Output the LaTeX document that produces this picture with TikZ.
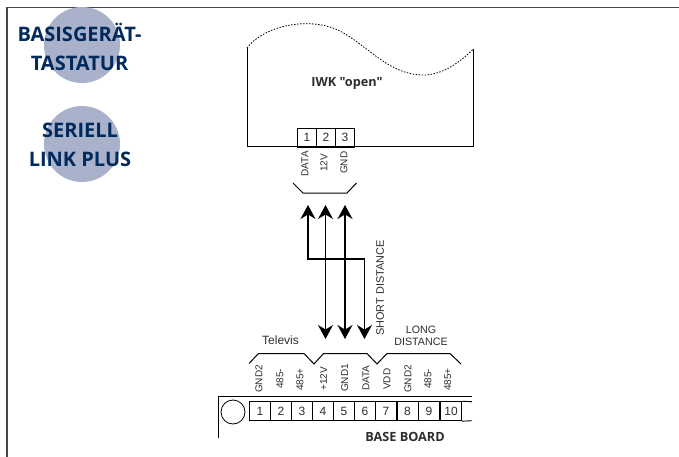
\documentclass[tikz,border=0pt]{standalone}
\usepackage{fontspec}
\setmainfont{Liberation Sans}
\newfontfamily\titlefont{Open Sans}
\usetikzlibrary{arrows.meta, positioning}
\definecolor{bbnavy}{RGB}{0, 42, 92}
\definecolor{bbcircle}{RGB}{169, 177, 203}
\definecolor{bbframe}{RGB}{70, 70, 70}
\definecolor{bbtext}{RGB}{45, 45, 45}

\begin{document}
\begin{tikzpicture}[x=1pt, y=-1pt, every node/.style={font=\fontsize{10.9}{12}\selectfont, text=bbtext},
  badge/.style={circle, fill=bbcircle, minimum size=76pt, inner sep=0pt},
  badgetext/.style={align=center, text=bbnavy, font=\titlefont\bfseries\fontsize{20}{29}\selectfont},
  terminal/.style={draw=black, line width=0.9pt, minimum width=19.5pt, minimum height=19pt, inner sep=0pt,
              text=bbtext, font=\fontsize{12}{12}\selectfont},
  pinlabel/.style={rotate=90, anchor=west, inner sep=0pt, font=\fontsize{10}{12}\selectfont},
  boldlabel/.style={font=\titlefont\bfseries\fontsize{12.7}{14}\selectfont},
  link/.style={{Stealth[length=14pt,width=15pt]}-{Stealth[length=14pt,width=15pt]}, line width=1.2pt}]
  \useasboundingbox (0,0) rectangle (679,457);

  % Page frame
  \coordinate (fa) at (7,457);
  \coordinate (fb) at (7,7.5);
  \coordinate (fc) at (679,7.5);
  \draw[bbframe, line width=1.5pt] (fa) -- (fb) -- (fc);

  % Badges top left
  \node[badge] (c1) at (82,45) {};
  \node[badge] (c2) at (82,144) {};
  \node[badgetext] (t1) at (79.5,46.5) {BASISGERÄT-\\TASTATUR};
  \node[badgetext] (t2) at (80,144.5) {SERIELL\\LINK PLUS};

  % IWK outline
  \coordinate (i1) at (247,48);
  \coordinate (i2) at (247,147);
  \coordinate (i3) at (473.5,147);
  \coordinate (i4) at (473.5,49);
  \draw[line width=1pt] (i1) -- (i2) -- (i3) -- (i4);
  \draw[line width=0.8pt, dash pattern=on 1.5pt off 1.5pt] (i1)
    .. controls (262,28) and (300,18) .. (330,27)
    .. controls (362,37) and (385,76) .. (425,75)
    .. controls (444,74) and (460,62) .. (i4);
  \node[boldlabel] (iwk) at (347,83) {IWK "open"};

  % IWK terminals
  \node[terminal] (p1) at (307,137.5) {1};
  \node[terminal] (p2) at (326,137.5) {2};
  \node[terminal] (p3) at (345,137.5) {3};
  \node[pinlabel] (l1) at (305,176.5) {DATA};
  \node[pinlabel] (l2) at (324,172) {12V};
  \node[pinlabel] (l3) at (344,174) {GND};
  \coordinate (b1) at (293,183);
  \coordinate (b2) at (303,193);
  \coordinate (b3) at (347,193);
  \coordinate (b4) at (356.5,183);
  \draw[line width=1pt] (b1) -- (b2) -- (b3) -- (b4);

  % Arrows
  \coordinate (u1) at (308,205);
  \coordinate (u2) at (325.5,205);
  \coordinate (u3) at (345,205);
  \coordinate (d1) at (325.5,339);
  \coordinate (d2) at (345,339);
  \coordinate (d3) at (364.5,339);
  \draw[link] (u1) |- (308,259) -| (d3);
  \draw[link] (u2) -- (d1);
  \draw[link] (u3) -- (d2);
  \node[rotate=90] (sd) at (380,288) {SHORT DISTANCE};

  % Base board outline
  \coordinate (o1) at (218,438);
  \coordinate (o2) at (218,396);
  \coordinate (o3) at (472,396);
  \draw[line width=0.7pt] (o1) -- (o2) -- (o3);
  \node[circle, draw=black, line width=0.8pt, minimum size=24pt, inner sep=0pt] (hole) at (233,412) {};

  % Base board terminals
  \node[terminal, minimum width=21pt] (n1) at (260,411.2) {1};
  \node[terminal, minimum width=21pt] (n2) at (281,411.2) {2};
  \node[terminal, minimum width=21pt] (n3) at (302,411.2) {3};
  \node[terminal, minimum width=21pt] (n4) at (323,411.2) {4};
  \node[terminal, minimum width=21pt] (n5) at (344,411.2) {5};
  \node[terminal, minimum width=21pt] (n6) at (365,411.2) {6};
  \node[terminal, minimum width=21pt] (n7) at (386,411.2) {7};
  \node[terminal, minimum width=21pt] (n8) at (407.5,411.2) {8};
  \node[terminal, minimum width=21pt] (n9) at (429,411.2) {9};
  \node[terminal, minimum width=21pt] (n10) at (451,411.2) {10};
  \coordinate (n11a) at (472,401.7);
  \coordinate (n11b) at (472,420.7);
  \draw[line width=0.9pt] (n10.north east) -- (n11a);
  \draw[line width=0.9pt] (n10.south east) -- (n11b);

  % Base board labels
  \node[pinlabel] (g1) at (259,393) {GND2};
  \node[pinlabel] (g2) at (280,389) {485-};
  \node[pinlabel] (g3) at (300,391) {485+};
  \node[pinlabel] (g4) at (323.7,391) {+12V};
  \node[pinlabel] (g5) at (344.7,392) {GND1};
  \node[pinlabel] (g6) at (366,391) {DATA};
  \node[pinlabel] (g7) at (387,390) {VDD};
  \node[pinlabel] (g8) at (408,393) {GND2};
  \node[pinlabel] (g9) at (428,389) {485-};
  \node[pinlabel] (g10) at (447.7,391) {485+};

  % Bracket over the pins
  \coordinate (k1) at (249,363.5);
  \coordinate (k2) at (258.5,353.5);
  \coordinate (k3) at (304,353.5);
  \coordinate (k4) at (314,364);
  \coordinate (k5) at (323.5,353.5);
  \coordinate (k6) at (367,353.5);
  \coordinate (k7) at (377,364);
  \coordinate (k8) at (387,353.5);
  \coordinate (k9) at (450,353.5);
  \coordinate (k10) at (461,364);
  \draw[line width=1pt] (k1) -- (k2) -- (k3) -- (k4) -- (k5) -- (k6) -- (k7) -- (k8) -- (k9) -- (k10);

  \node[font=\fontsize{12}{12}\selectfont] (tv) at (280.5,340.5) {Televis};
  \node[align=center, font=\fontsize{10.7}{12.5}\selectfont] (ld) at (421,336) {LONG\\DISTANCE};
  \node[boldlabel] (bb) at (405,437) {BASE BOARD};
\end{tikzpicture}
\end{document}
